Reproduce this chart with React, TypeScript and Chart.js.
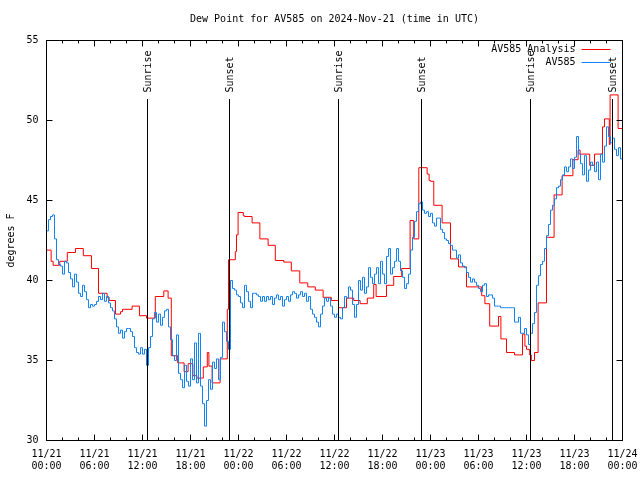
import React, { useEffect, useRef } from "react";
import { Chart, registerables } from "chart.js";

Chart.register(...registerables);

const TITLE = "Dew Point for AV585 on 2024-Nov-21 (time in UTC)";
const Y_LABEL = "degrees F";
const SERIES_NAMES = ["AV585 Analysis", "AV585"];
const SERIES_COLORS = ["#ff0000", "#1183f2"];

const X_MIN = 0;
const X_MAX = 72;
const Y_MIN = 30;
const Y_MAX = 55;

const X_TICK_HOURS = [0, 6, 12, 18, 24, 30, 36, 42, 48, 54, 60, 66, 72];
const X_TICK_LABELS = [
  ["11/21", "00:00"], ["11/21", "06:00"], ["11/21", "12:00"], ["11/21", "18:00"],
  ["11/22", "00:00"], ["11/22", "06:00"], ["11/22", "12:00"], ["11/22", "18:00"],
  ["11/23", "00:00"], ["11/23", "06:00"], ["11/23", "12:00"], ["11/23", "18:00"],
  ["11/24", "00:00"],
];
const X_MINOR_STEP = 2;
const Y_TICKS = [30, 35, 40, 45, 50, 55];
const Y_TICK_LABELS = ["30", "35", "40", "45", "50", "55"];

const SUN_EVENTS = ["Sunrise", "Sunset", "Sunrise", "Sunset", "Sunrise", "Sunset"];
const SUN_HOURS = [12.58, 22.83, 36.45, 46.83, 60.45, 70.7];

// AV585 Analysis (step series): hour from 11/21 00:00 UTC, value
const ANALYSIS_HOURS = [
  0, 0.58, 0.83, 1.66, 2.6, 3.62, 4.6, 5.62, 6.5, 7.58, 7.83, 8.62, 9.25, 9.5, 10.7, 11.62,
  12.5, 13.6, 14.66, 15.2, 15.6, 16.4, 17.2, 17.7, 18.3, 18.8, 19.6, 20.1, 20.3, 20.7, 21.7,
  22.6, 22.75, 23.6, 23.75, 23.95, 24.6, 24.75, 25.7, 26.67, 27.7, 28.6, 29.66, 30.6, 31.66,
  32.66, 33.6, 34.58, 35.6, 36.5, 37.5, 38.4, 39.2, 40.1, 40.9, 41.2, 42.5, 43.4, 44.4,
  45.45, 45.9, 46.54, 47.58, 47.83, 48.0, 48.41, 49.45, 50.5, 51.5, 52.5, 54.4, 54.8, 55.4,
  56.5, 56.8, 57.5, 58.5, 59.5, 59.8, 60.0, 60.4, 60.6, 61.0, 61.45, 62.5, 63.45, 64.45,
  65.8, 66.45, 66.7, 67.9, 68.5, 69.5, 69.75, 70.35, 70.45, 71.45, 72,
];
const ANALYSIS_VALUES = [
  41.9, 41.2, 40.95, 41.2, 41.75, 42.0, 41.55, 40.75, 39.2, 38.95, 38.75, 37.9, 38.05, 38.2, 38.4, 37.8,
  37.65, 39.0, 39.35, 38.9, 35.3, 34.85, 34.3, 34.8, 34.05, 33.9, 34.6, 35.5, 34.65, 33.6, 35.1,
  38.2, 41.3, 41.8, 42.85, 44.25, 44.05, 44.0, 43.6, 42.6, 42.2, 41.25, 41.15, 40.6, 39.85,
  39.6, 39.4, 38.95, 38.75, 38.3, 38.9, 38.75, 38.55, 38.9, 39.75, 39.0, 39.7, 40.25, 40.75,
  43.75, 42.6, 47.05, 46.65, 46.25, 46.2, 44.7, 43.6, 41.35, 40.85, 39.6, 39.05, 38.55, 37.15,
  37.75, 36.35, 35.5, 35.35, 36.65, 35.9, 35.7, 35.35, 35.0, 35.5, 38.6, 42.7, 45.35, 46.55,
  47.55, 48.15, 47.9, 47.2, 47.9, 49.6, 50.1, 48.5, 51.6, 49.5, 49.5,
];

// AV585 observations, one value every 15 minutes from 11/21 00:00 UTC
const OBS_STEP_HOURS = 0.25;
const OBS_VALUES = [
  43.1, 43.8, 44.0, 44.1, 42.6, 41.3, 41.0, 40.9, 40.4, 41.2, 41.1, 40.5, 40.1, 39.6, 40.4, 39.9,
  39.2, 39.0, 39.7, 39.3, 38.8, 38.3, 38.5, 38.4, 38.5, 38.7, 39.0, 38.8, 39.2, 38.7, 39.0, 38.6,
  38.3, 38.1, 37.6, 37.1, 36.7, 36.9, 36.4, 36.8, 37.0, 37.0, 36.8, 36.5, 35.8, 35.5, 35.4, 35.8,
  35.4, 35.7, 34.7, 35.8, 36.5, 37.6, 38.0, 37.4, 37.9, 37.2, 37.7, 38.1, 38.2, 37.1, 36.3, 35.3,
  35.0, 36.6, 34.2, 33.8, 33.3, 34.7, 33.7, 33.4, 35.1, 33.8, 36.1, 33.6, 36.7, 33.4, 32.3, 30.9,
  32.5, 33.8, 33.2, 34.9, 34.5, 35.1, 33.8, 35.2, 37.4, 36.8, 36.2, 35.7, 40.0, 39.5, 39.4, 39.1,
  39.0, 38.6, 38.3, 39.7, 39.3, 38.7, 38.3, 39.2, 39.2, 39.1, 39.0, 38.7, 39.0, 38.7, 39.0, 38.8,
  39.0, 38.5, 38.9, 39.1, 38.8, 39.0, 38.4, 38.8, 39.0, 38.7, 39.1, 39.3, 39.2, 38.9, 39.1, 39.3,
  39.0, 39.2, 38.7, 39.0, 38.2, 37.9, 37.7, 37.4, 37.1, 37.9, 38.4, 38.9, 38.7, 38.9, 38.4, 37.9,
  37.7, 37.9, 37.7, 37.6, 38.3, 39.0, 38.9, 39.6, 39.4, 38.5, 37.7, 38.5, 40.0, 39.4, 40.2, 39.2,
  39.6, 40.8, 40.2, 39.8, 40.4, 40.8, 39.8, 41.2, 40.4, 39.8, 41.5, 42.0, 40.4, 40.8, 41.2, 42.0,
  41.2, 40.6, 40.2, 39.5, 39.8, 40.4, 41.9, 42.7, 43.7, 44.3, 44.8, 44.9, 44.4, 44.2, 44.3, 44.0,
  44.2, 43.6, 43.4, 43.9, 43.9, 43.2, 43.0, 42.6, 42.5, 42.3, 42.2, 41.9, 41.9, 41.4, 41.6, 41.1,
  40.9, 40.8, 40.5, 40.2, 39.9, 40.1, 39.9, 39.7, 39.5, 39.3, 39.7, 39.8, 39.0, 39.1, 39.1, 38.9,
  38.4, 38.4, 38.4, 38.3, 38.3, 38.3, 38.3, 38.3, 38.3, 38.3, 37.4, 37.4, 37.7, 36.7, 36.7, 37.0,
  36.6, 36.0, 36.7, 37.3, 38.0, 39.7, 40.3, 41.0, 41.2, 42.0, 42.8, 43.5, 44.4, 44.7, 45.1, 45.8,
  45.9, 46.3, 46.6, 47.1, 46.8, 47.1, 47.6, 47.0, 47.7, 49.0, 47.9, 47.3, 46.6, 47.8, 46.2, 46.9,
  47.4, 47.2, 46.8, 47.4, 46.3, 47.9, 47.4, 48.4, 49.6, 49.0, 48.6, 48.9, 48.2, 47.8, 48.3, 47.6,
  47.5,
];

const FONT = '10px "DejaVu Sans Mono", "Liberation Mono", monospace';

const framePlugin = {
  id: "gnuplotFrame",
  beforeDraw(chart: any) {
    const ctx = chart.ctx;
    ctx.save();
    ctx.fillStyle = "#ffffff";
    ctx.fillRect(0, 0, chart.width, chart.height);
    ctx.restore();
  },
  afterDatasetsDraw(chart: any) {
    const ctx = chart.ctx;
    const { left, right, top, bottom } = chart.chartArea;
    const xs = chart.scales.x;
    const ys = chart.scales.y;
    const snap = (v: number) => Math.round(v - 0.5) + 0.5;

    ctx.save();
    ctx.strokeStyle = "#000000";
    ctx.fillStyle = "#000000";
    ctx.lineWidth = 1;
    ctx.font = FONT;

    // sunrise / sunset markers
    SUN_HOURS.forEach((h, i) => {
      const px = snap(xs.getPixelForValue(h));
      ctx.beginPath();
      ctx.moveTo(px, top + 58.5);
      ctx.lineTo(px, bottom);
      ctx.stroke();
      ctx.save();
      ctx.translate(px + 1, top + 52);
      ctx.rotate(-Math.PI / 2);
      ctx.textAlign = "left";
      ctx.textBaseline = "middle";
      ctx.fillText(SUN_EVENTS[i], 0, 0);
      ctx.restore();
    });

    // border
    ctx.strokeRect(snap(left), snap(top), Math.round(right - left), Math.round(bottom - top));

    // x ticks (major + minor), bottom and top
    for (let h = X_MIN; h <= X_MAX; h += X_MINOR_STEP) {
      const major = X_TICK_HOURS.includes(h);
      const len = major ? 6 : 3;
      const px = snap(xs.getPixelForValue(h));
      ctx.beginPath();
      ctx.moveTo(px, snap(bottom));
      ctx.lineTo(px, snap(bottom) - len);
      ctx.moveTo(px, snap(top));
      ctx.lineTo(px, snap(top) + len);
      ctx.stroke();
    }
    // y ticks, left and right
    Y_TICKS.forEach((v) => {
      const py = snap(ys.getPixelForValue(v));
      ctx.beginPath();
      ctx.moveTo(snap(left), py);
      ctx.lineTo(snap(left) + 6, py);
      ctx.moveTo(snap(right), py);
      ctx.lineTo(snap(right) - 6, py);
      ctx.stroke();
    });

    // tick labels
    ctx.textBaseline = "middle";
    ctx.textAlign = "right";
    Y_TICKS.forEach((v, i) => {
      ctx.fillText(Y_TICK_LABELS[i], left - 8, ys.getPixelForValue(v));
    });
    ctx.textAlign = "center";
    X_TICK_HOURS.forEach((h, i) => {
      const px = xs.getPixelForValue(h);
      ctx.fillText(X_TICK_LABELS[i][0], px, bottom + 14);
      ctx.fillText(X_TICK_LABELS[i][1], px, bottom + 26);
    });

    // title
    ctx.textAlign = "center";
    ctx.fillText(TITLE, (left + right) / 2, 19);

    // y label
    ctx.save();
    ctx.translate(11, (top + bottom) / 2);
    ctx.rotate(-Math.PI / 2);
    ctx.textAlign = "center";
    ctx.fillText(Y_LABEL, 0, 0);
    ctx.restore();

    // legend
    SERIES_NAMES.forEach((name, i) => {
      const y = top + 9 + i * 13;
      ctx.fillStyle = "#000000";
      ctx.textAlign = "right";
      ctx.fillText(name, right - 47, y);
      ctx.strokeStyle = SERIES_COLORS[i];
      ctx.beginPath();
      ctx.moveTo(right - 41, snap(y));
      ctx.lineTo(right - 12, snap(y));
      ctx.stroke();
    });

    ctx.restore();
  },
};

export default function App() {
  const canvasRef = useRef<HTMLCanvasElement | null>(null);

  useEffect(() => {
    const canvas = canvasRef.current;
    if (!canvas) return;
    const analysisData = ANALYSIS_HOURS.map((h, i) => ({ x: h, y: ANALYSIS_VALUES[i] }));
    const obsData = OBS_VALUES.map((v, i) => ({ x: i * OBS_STEP_HOURS, y: v }));

    const chart = new Chart(canvas, {
      type: "line",
      data: {
        datasets: [
          {
            label: SERIES_NAMES[1],
            data: obsData,
            borderColor: SERIES_COLORS[1],
            borderWidth: 1,
            pointRadius: 0,
            stepped: "before",
            fill: false,
            order: 0,
          },
          {
            label: SERIES_NAMES[0],
            data: analysisData,
            borderColor: SERIES_COLORS[0],
            borderWidth: 1,
            pointRadius: 0,
            stepped: "before",
            fill: false,
            order: 1,
          },
        ],
      },
      options: {
        animation: false,
        responsive: false,
        maintainAspectRatio: false,
        devicePixelRatio: 1,
        parsing: false,
        normalized: true,
        layout: { padding: { left: 46.5, right: 17.5, top: 40.5, bottom: 39.5 } },
        scales: {
          x: { type: "linear", min: X_MIN, max: X_MAX, display: false },
          y: { type: "linear", min: Y_MIN, max: Y_MAX, display: false },
        },
        plugins: {
          legend: { display: false },
          tooltip: { enabled: false },
          title: { display: false },
        },
        events: [],
      },
      plugins: [framePlugin],
    });
    return () => chart.destroy();
  }, []);

  return (
    <div style={{ position: "fixed", left: 0, top: 0, width: 640, height: 480, background: "#fff" }}>
      <canvas ref={canvasRef} width={640} height={480} style={{ display: "block", width: 640, height: 480 }} />
    </div>
  );
}
